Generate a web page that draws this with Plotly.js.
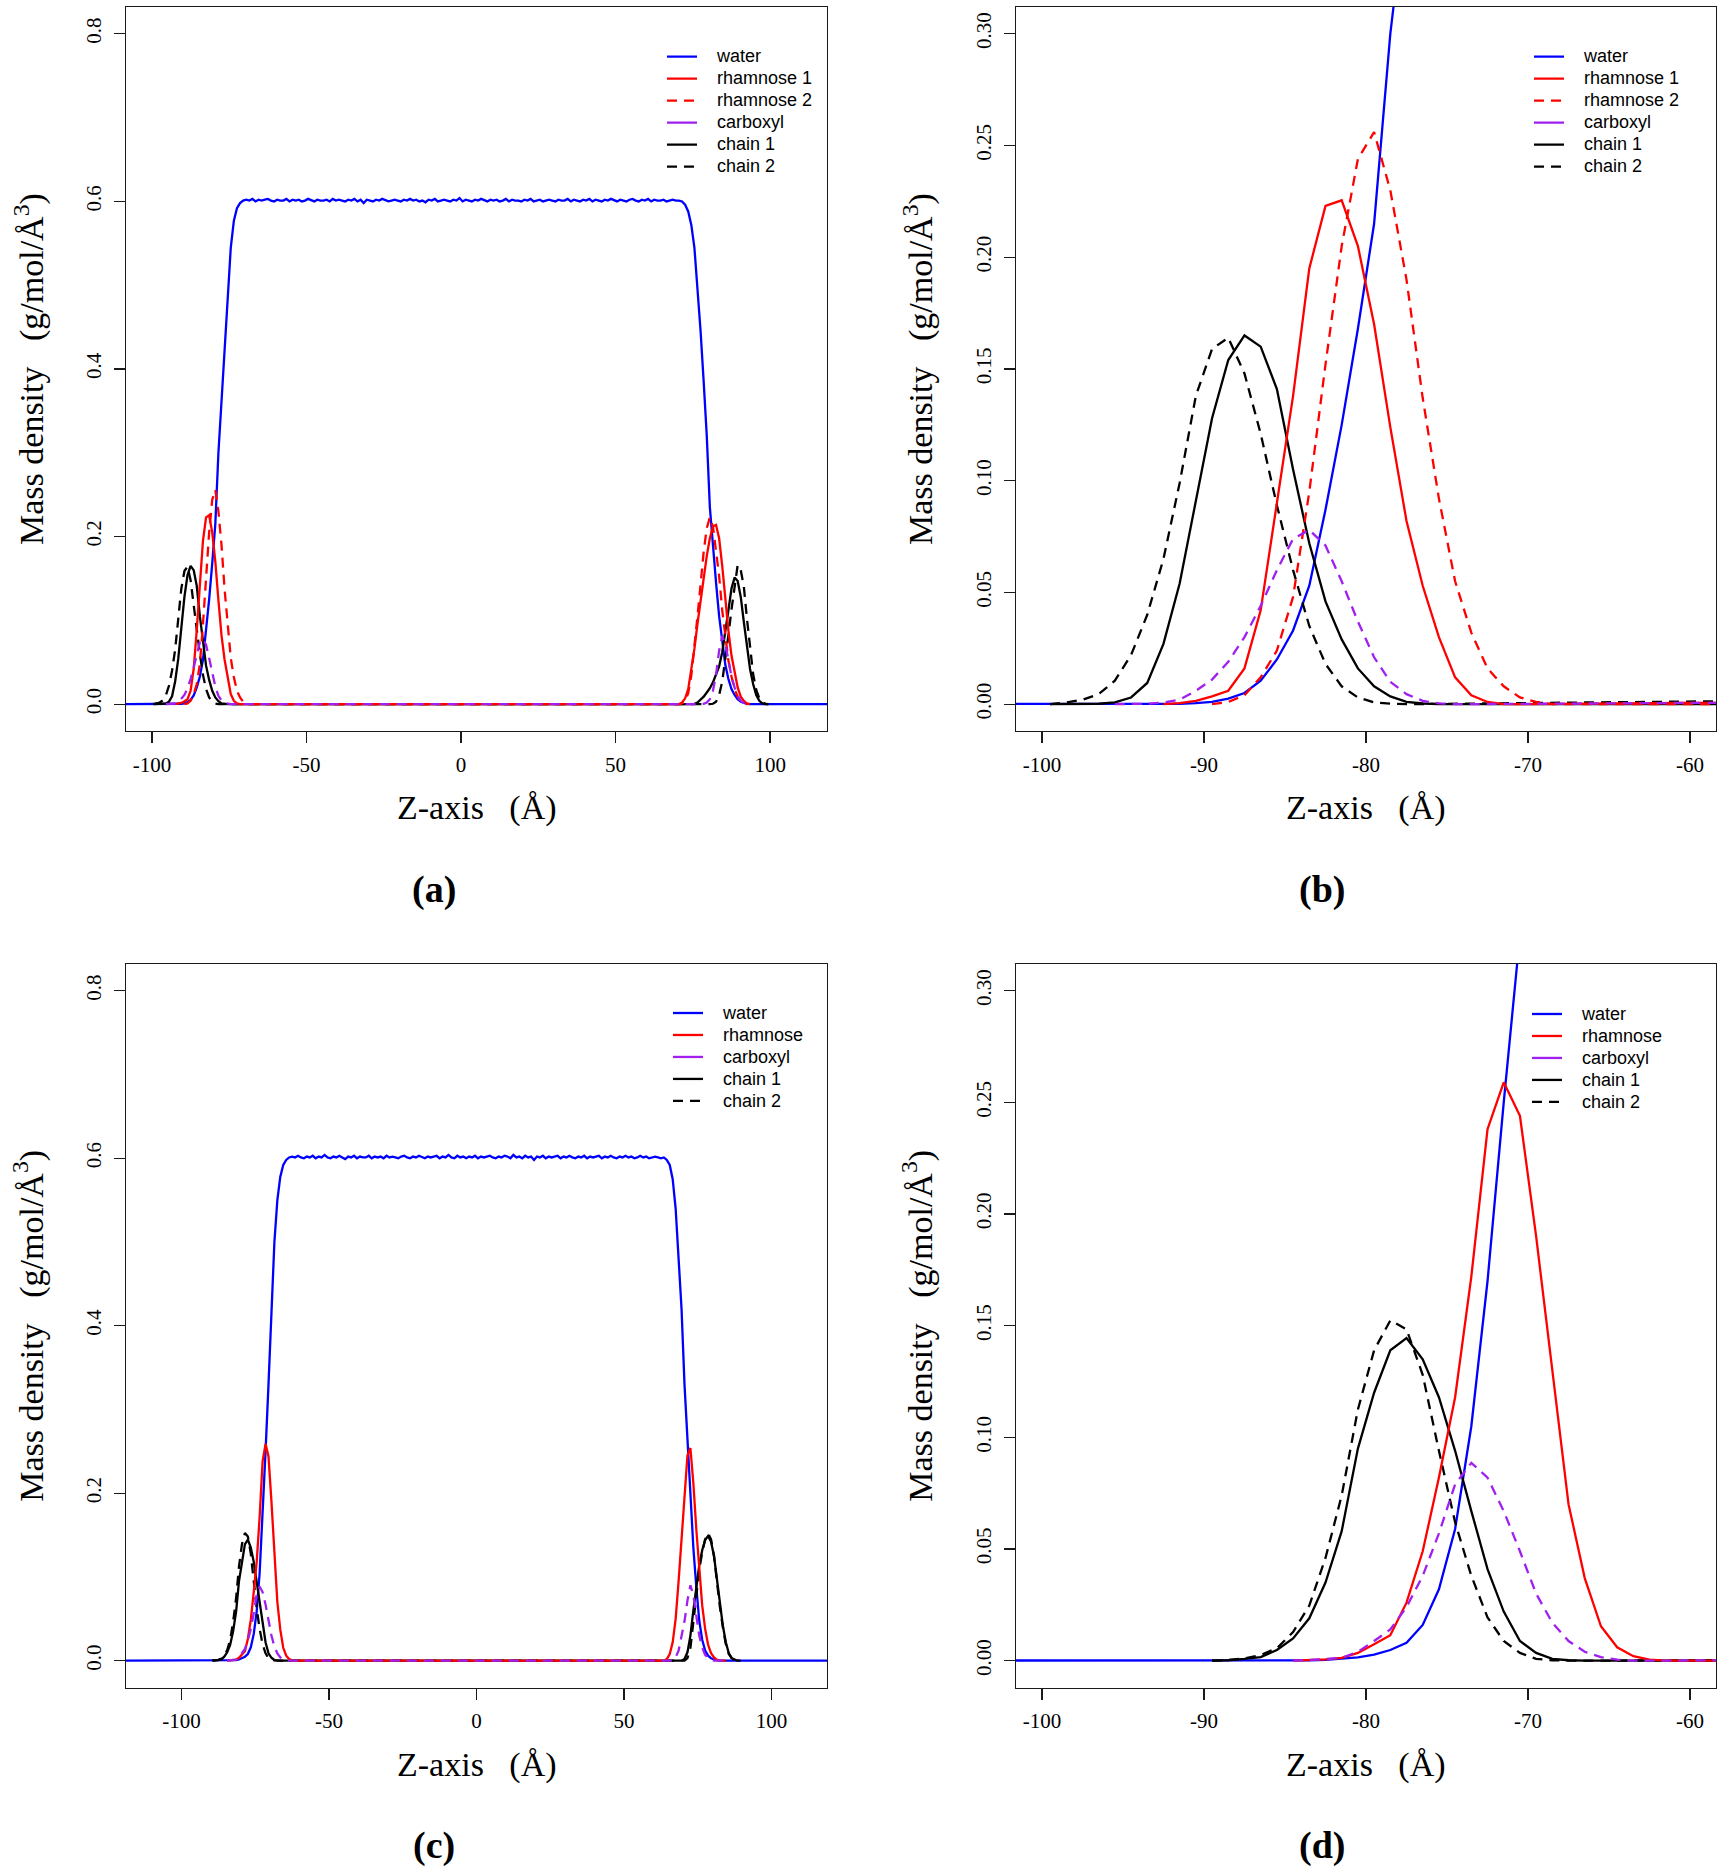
<!DOCTYPE html>
<html>
<head>
<meta charset="utf-8">
<script src="https://cdn.plot.ly/plotly-3.0.1.min.js"></script>
<style>
html,body{margin:0;padding:0;background:#fff;}
#chart{width:1724px;height:1871px;}
</style>
</head>
<body>
<div id="chart"></div>
<script>
// ---------------- DATA (mass density, g/mol/Å^3, 1 Å bins centred on half-integers) ----------------
// System (a)/(b)
const waterA_start = -94.5;
const waterA_rise = [0,0,0.0001,0.0002,0.0005,0.001,0.0025,0.005,0.0105,0.020,
  0.033,0.053,0.087,0.125,0.168,0.215,0.30,0.365,0.425,0.49,
  0.545,0.577,0.592,0.598,0.601];
const waterA_bulk = [
  0.602,0.601,0.603,0.600,0.602,0.601,0.602,0.603,0.601,0.600,
  0.602,0.601,0.601,0.603,0.600,0.602,0.601,0.602,0.600,0.601,
  0.603,0.601,0.600,0.602,0.601,0.601,0.602,0.600,0.603,0.601,
  0.602,0.601,0.600,0.602,0.601,0.603,0.600,0.602,0.598,0.602,
  0.601,0.600,0.602,0.601,0.603,0.601,0.600,0.601,0.602,0.601,
  0.600,0.602,0.601,0.603,0.601,0.602,0.600,0.601,0.599,0.602,
  0.601,0.603,0.600,0.601,0.602,0.601,0.600,0.602,0.601,0.604,
  0.600,0.602,0.601,0.600,0.602,0.601,0.603,0.601,0.600,0.602,
  0.601,0.602,0.600,0.601,0.603,0.600,0.602,0.601,0.601,0.600,
  0.602,0.601,0.603,0.600,0.601,0.602,0.600,0.601,0.602,0.601,
  0.600,0.602,0.601,0.601,0.603,0.600,0.602,0.601,0.600,0.602,
  0.601,0.603,0.600,0.602,0.601,0.600,0.602,0.601,0.603,0.601,
  0.600,0.602,0.601,0.600,0.602,0.603,0.601,0.600,0.602,0.601,
  0.603,0.600,0.602,0.601,0.601,0.602,0.600,0.601,0.602,0.601];
const waterA_fall = [0.601,0.600,0.596,0.588,0.572,0.545,0.50,0.445,0.385,0.32,
  0.235,0.185,0.145,0.105,0.072,0.047,0.030,0.018,0.011,0.006,
  0.003,0.0015,0.0005,0.0001,0];

const chain1A_leftStart = -99.5;
const chain1A_left = [0,0,0,0.0002,0.0008,0.003,0.0095,0.027,0.054,0.091,
  0.128,0.154,0.165,0.160,0.141,0.105,0.072,0.046,0.029,0.016,
  0.008,0.0035,0.001,0.0003,0];
const chain1A_rightStart = 74.5;
const chain1A_right = [0,0.0005,0.002,0.005,0.009,0.014,0.019,0.026,0.035,0.045,
  0.062,0.085,0.112,0.138,0.151,0.147,0.128,0.098,0.068,0.042,
  0.024,0.011,0.004,0.001,0.0002,0];

const chain2A_leftStart = -99.5;
const chain2A_left = [0,0.0007,0.002,0.0045,0.0105,0.022,0.040,0.065,0.099,0.138,
  0.159,0.164,0.148,0.121,0.089,0.060,0.035,0.018,0.008,0.003,
  0.0008,0.0002,0];
const chain2A_rightStart = 80.5;
const chain2A_right = [0,0.0005,0.003,0.011,0.027,0.052,0.082,0.113,0.143,0.166,
  0.160,0.140,0.102,0.065,0.036,0.017,0.007,0.002,0.0005,0];

const rham1A_leftStart = -92.5;
const rham1A_left = [0,0.0005,0.0015,0.0035,0.006,0.016,0.042,0.089,0.138,0.195,
  0.223,0.2255,0.205,0.170,0.124,0.082,0.053,0.030,0.012,0.004,
  0.001,0];
const rham1A_rightStart = 70.5;
const rham1A_right = [0,0.002,0.007,0.018,0.040,0.066,0.096,0.125,0.152,0.177,
  0.198,0.212,0.214,0.198,0.165,0.125,0.088,0.058,0.038,0.020,
  0.009,0.004,0.001,0];

const rham2A_leftStart = -89.5;
const rham2A_left = [0,0.001,0.004,0.012,0.024,0.048,0.095,0.152,0.205,0.244,
  0.256,0.230,0.190,0.137,0.092,0.055,0.032,0.016,0.008,0.003,
  0.001,0];
const rham2A_rightStart = 70.5;
const rham2A_right = [0,0.001,0.004,0.013,0.034,0.066,0.105,0.143,0.182,0.210,
  0.223,0.212,0.185,0.153,0.112,0.078,0.052,0.033,0.018,0.009,
  0.004,0.001,0];

const carbA_leftStart = -95.5;
const carbA_left = [0,0.0001,0.0002,0.0008,0.002,0.006,0.011,0.019,0.030,0.044,
  0.060,0.074,0.078,0.071,0.055,0.037,0.021,0.010,0.0045,0.0015,
  0.0004,0];
const carbA_rightStart = 77.5;
const carbA_right = [0,0.0005,0.002,0.006,0.016,0.035,0.064,0.0815,0.072,0.050,
  0.033,0.020,0.010,0.004,0.0015,0.0004,0];

// System (c)/(d)
const waterC_start = -89.5;
const waterC_rise = [0,0,0,0,0,0.0001,0.0002,0.0004,0.0008,0.0015,
  0.0027,0.0048,0.008,0.016,0.032,0.059,0.105,0.170,0.250,0.33,
  0.42,0.50,0.55,0.578,0.592,0.598,0.601];
const waterC_bulk = [
  0.602,0.601,0.603,0.601,0.600,0.602,0.601,0.603,0.600,0.602,
  0.601,0.604,0.601,0.600,0.602,0.601,0.603,0.601,0.599,0.602,
  0.601,0.603,0.600,0.602,0.601,0.601,0.603,0.600,0.602,0.601,
  0.602,0.600,0.603,0.601,0.602,0.601,0.600,0.602,0.603,0.601,
  0.600,0.602,0.601,0.603,0.601,0.600,0.602,0.601,0.602,0.603,
  0.600,0.602,0.601,0.604,0.601,0.600,0.603,0.601,0.602,0.600,
  0.602,0.601,0.603,0.600,0.602,0.601,0.602,0.603,0.601,0.600,
  0.602,0.601,0.603,0.602,0.600,0.604,0.601,0.602,0.600,0.603,
  0.601,0.602,0.598,0.602,0.601,0.603,0.600,0.602,0.601,0.602,
  0.603,0.600,0.602,0.601,0.603,0.601,0.600,0.602,0.601,0.603,
  0.600,0.602,0.601,0.602,0.603,0.600,0.602,0.601,0.603,0.601,
  0.600,0.602,0.601,0.603,0.601,0.602,0.600,0.601,0.603,0.601,
  0.602,0.600,0.601,0.602,0.601,0.600];
const waterC_fall = [0.601,0.598,0.592,0.575,0.54,0.48,0.42,0.33,0.26,0.195,
  0.135,0.088,0.048,0.025,0.012,0.006,0.003,0.0015,0.0006,0.0002,
  0,0,0,0,0,0,0];

const rhamC_leftStart = -84.5;
const rhamC_left = [0,0.0002,0.0006,0.0013,0.0035,0.0074,0.0114,0.026,0.049,0.082,
  0.118,0.172,0.238,0.259,0.244,0.19,0.13,0.07,0.037,0.0154,
  0.006,0.002,0.0005,0];
const rhamC_rightStart = 62.5;
const rhamC_right = [0,0,0.002,0.008,0.022,0.050,0.095,0.145,0.205,0.245,
  0.254,0.212,0.157,0.105,0.066,0.038,0.019,0.009,0.004,0.001,
  0,0,0];

const carbC_leftStart = -84.5;
const carbC_left = [0,0.0003,0.0007,0.0013,0.004,0.0088,0.014,0.024,0.038,0.057,
  0.079,0.0886,0.082,0.067,0.049,0.030,0.017,0.0088,0.004,0.0016,
  0.0005,0];
const carbC_rightStart = 66.5;
const carbC_right = [0,0.004,0.012,0.028,0.047,0.072,0.090,0.078,0.052,0.030,
  0.016,0.007,0.003,0.001,0,0,0,0,0];

const chain1C_leftStart = -89.5;
const chain1C_left = [0,0.0002,0.0008,0.0016,0.0048,0.010,0.019,0.035,0.058,0.095,
  0.12,0.139,0.1445,0.135,0.118,0.094,0.067,0.041,0.022,0.0088,
  0.0035,0.0008,0.0002,0];
const chain1C_rightStart = 69.5;
const chain1C_right = [0,0.002,0.010,0.030,0.060,0.088,0.114,0.132,0.144,0.149,
  0.142,0.125,0.095,0.066,0.042,0.022,0.009,0.003,0.001,0,0];

const chain2C_leftStart = -89.5;
const chain2C_left = [0,0.0003,0.001,0.0025,0.0056,0.0128,0.0247,0.046,0.074,0.1125,
  0.139,0.1524,0.1484,0.128,0.094,0.062,0.038,0.0194,0.0088,0.0035,
  0.0008,0.0002,0];
const chain2C_rightStart = 70.5;
const chain2C_right = [0,0.003,0.015,0.045,0.078,0.108,0.130,0.145,0.152,0.145,
  0.125,0.094,0.064,0.040,0.020,0.008,0.003,0.001,0,0];

const binWidth = 1;          // Å
const waterExtent = 119.5;   // water profile spans the whole box (zero outside the slab)

// tick labels
const xTicksAC = [-100,-50,0,50,100];
const xTickTextAC = ['-100','-50','0','50','100'];
const xTicksBD = [-100,-90,-80,-70,-60];
const xTickTextBD = ['-100','-90','-80','-70','-60'];
const yTicksAC = [0,0.2,0.4,0.6,0.8];
const yTickTextAC = ['0.0','0.2','0.4','0.6','0.8'];
const yTicksBD = [0,0.05,0.10,0.15,0.20,0.25,0.30];
const yTickTextBD = ['0.00','0.05','0.10','0.15','0.20','0.25','0.30'];

// ---------------- helpers ----------------
function bins(start, n){ const a=[]; for(let i=0;i<n;i++) a.push(start+i*binWidth); return a; }
function twoSided(ls, lv, rs, rv){
  return {x: bins(ls, lv.length).concat(bins(rs, rv.length)), y: lv.concat(rv)};
}
function waterProfile(start, rise, bulk, fall){
  const v = rise.concat(bulk, fall);
  return {x: [-waterExtent].concat(bins(start, v.length), [waterExtent]), y: [0].concat(v, [0])};
}

const W=1724, H=1871;
const px = v => v/W, py = v => 1 - v/H;

const BLUE='#0000FF', RED='#FF0000', PURPLE='#A020F0', BLACK='#000000';
const LW=2.3, DASH='10px,7px';
const LEGFONT = 18;
const lbl = t => '<span style="font-size:'+LEGFONT+'px">\u00A0\u00A0\u00A0'+t+'</span>';

const sysA = {
  water: waterProfile(waterA_start, waterA_rise, waterA_bulk, waterA_fall),
  chain1: twoSided(chain1A_leftStart, chain1A_left, chain1A_rightStart, chain1A_right),
  chain2: twoSided(chain2A_leftStart, chain2A_left, chain2A_rightStart, chain2A_right),
  rham1: twoSided(rham1A_leftStart, rham1A_left, rham1A_rightStart, rham1A_right),
  rham2: twoSided(rham2A_leftStart, rham2A_left, rham2A_rightStart, rham2A_right),
  carb: twoSided(carbA_leftStart, carbA_left, carbA_rightStart, carbA_right)
};
const sysC = {
  water: waterProfile(waterC_start, waterC_rise, waterC_bulk, waterC_fall),
  chain1: twoSided(chain1C_leftStart, chain1C_left, chain1C_rightStart, chain1C_right),
  chain2: twoSided(chain2C_leftStart, chain2C_left, chain2C_rightStart, chain2C_right),
  rham1: twoSided(rhamC_leftStart, rhamC_left, rhamC_rightStart, rhamC_right),
  carb: twoSided(carbC_leftStart, carbC_left, carbC_rightStart, carbC_right)
};

const traces = [];
function addPanel(sys, xa, ya, leg, twoRham){
  const base = {type:'scatter', mode:'lines', xaxis:xa, yaxis:ya, legend:leg, hoverinfo:'skip'};
  traces.push(Object.assign({}, base, {x:sys.water.x, y:sys.water.y, name:lbl('water'), legendrank:1, line:{color:BLUE,width:LW}}));
  traces.push(Object.assign({}, base, {x:sys.chain1.x, y:sys.chain1.y, name:lbl('chain 1'), legendrank:5, line:{color:BLACK,width:LW}}));
  traces.push(Object.assign({}, base, {x:sys.chain2.x, y:sys.chain2.y, name:lbl('chain 2'), legendrank:6, line:{color:BLACK,width:LW,dash:DASH}}));
  traces.push(Object.assign({}, base, {x:sys.rham1.x, y:sys.rham1.y, name: lbl(twoRham ? 'rhamnose 1' : 'rhamnose'), legendrank:2, line:{color:RED,width:LW}}));
  if (twoRham) traces.push(Object.assign({}, base, {x:sys.rham2.x, y:sys.rham2.y, name:lbl('rhamnose 2'), legendrank:3, line:{color:RED,width:LW,dash:DASH}}));
  traces.push(Object.assign({}, base, {x:sys.carb.x, y:sys.carb.y, name:'carboxyl', showlegend:false, line:{color:PURPLE,width:LW,dash:DASH}}));
  // legend key for carboxyl is drawn solid in the original
  traces.push(Object.assign({}, base, {x:[null], y:[null], name:lbl('carboxyl'), legendrank:4, line:{color:PURPLE,width:LW}}));
}
addPanel(sysA,'x','y','legend',true);
addPanel(sysA,'x2','y2','legend2',true);
addPanel(sysC,'x3','y3','legend3',false);
addPanel(sysC,'x4','y4','legend4',false);

const serif = 'Liberation Serif, Times New Roman, serif';
const sans = 'Liberation Sans, Arial, Helvetica, sans-serif';
const frame = '#1a1a1a';

function xAxis(domain, range, tv, tt, anchor){
  return {domain, range, anchor, tickmode:'array', tickvals:tv, ticktext:tt,
    ticks:'outside', ticklen:11, tickwidth:1.3, tickcolor:frame,
    showline:true, linecolor:frame, linewidth:1.3, mirror:true,
    showgrid:false, zeroline:false, ticklabelstandoff:3,
    tickfont:{family:serif, size:21, color:'#000'}, fixedrange:true};
}
function yAxis(domain, range, tv, tt, anchor){
  return {domain, range, anchor, tickmode:'array', tickvals:tv, ticktext:tt, tickangle:-90,
    ticks:'outside', ticklen:11, tickwidth:1.3, tickcolor:frame,
    showline:true, linecolor:frame, linewidth:1.3, mirror:true,
    showgrid:false, zeroline:false, ticklabelstandoff:4,
    tickfont:{family:serif, size:21, color:'#000'}, fixedrange:true};
}

const xDomL=[px(126),px(827)], xDomR=[px(1016),px(1716)];
const yDomT=[py(731),py(7)], yDomB=[py(1687.5),py(964)];

function legendAt(x, y){
  return {x:px(x), y:py(y), xanchor:'left', yanchor:'top', bgcolor:'rgba(0,0,0,0)', borderwidth:0,
    font:{family:sans, size:14.6, color:'#000'}, itemwidth:30, traceorder:'normal', tracegroupgap:0};
}

const ytitle = 'Mass density\u00A0\u00A0\u00A0(g/mol/Å<sup>3</sup>)';
const xtitle = 'Z-axis\u00A0\u00A0\u00A0(Å)';
function ann(text, x, y, size, angle, bold){
  return {text: bold ? '<b>'+text+'</b>' : text, xref:'paper', yref:'paper', x:px(x), y:py(y),
    xanchor:'center', yanchor:'middle', showarrow:false, textangle:angle||0,
    font:{family:serif, size:size, color:'#000'}};
}

const layout = {
  width:W, height:H, margin:{l:0,r:0,t:0,b:0}, paper_bgcolor:'#fff', plot_bgcolor:'#fff',
  showlegend:true,
  xaxis: xAxis(xDomL, [-108.4,118.4], xTicksAC, xTickTextAC, 'y'),
  yaxis: yAxis(yDomT, [-0.032,0.832], yTicksAC, yTickTextAC, 'x'),
  xaxis2: xAxis(xDomR, [-101.6,-58.4], xTicksBD, xTickTextBD, 'y2'),
  yaxis2: yAxis(yDomT, [-0.012,0.312], yTicksBD, yTickTextBD, 'x2'),
  xaxis3: xAxis(xDomL, [-118.8,118.8], xTicksAC, xTickTextAC, 'y3'),
  yaxis3: yAxis(yDomB, [-0.032,0.832], yTicksAC, yTickTextAC, 'x3'),
  xaxis4: xAxis(xDomR, [-101.6,-58.4], xTicksBD, xTickTextBD, 'y4'),
  yaxis4: yAxis(yDomB, [-0.012,0.312], yTicksBD, yTickTextBD, 'x4'),
  legend: legendAt(662, 40.7),
  legend2: legendAt(1529, 40.7),
  legend3: legendAt(668, 997),
  legend4: legendAt(1527, 998),
  annotations: [
    ann(xtitle, 476.5, 808, 34), ann(xtitle, 1366, 808, 34),
    ann(xtitle, 476.5, 1764.5, 34), ann(xtitle, 1366, 1764.5, 34),
    ann(ytitle, 29, 369, 34, -90), ann(ytitle, 918, 369, 34, -90),
    ann(ytitle, 29, 1325.75, 34, -90), ann(ytitle, 918, 1325.75, 34, -90),
    ann('(a)', 434, 889, 38, 0, true), ann('(b)', 1322, 889, 38, 0, true),
    ann('(c)', 434, 1845, 38, 0, true), ann('(d)', 1322, 1845, 38, 0, true)
  ]
};

Plotly.newPlot('chart', traces, layout, {staticPlot:true, displayModeBar:false});
</script>
</body>
</html>
